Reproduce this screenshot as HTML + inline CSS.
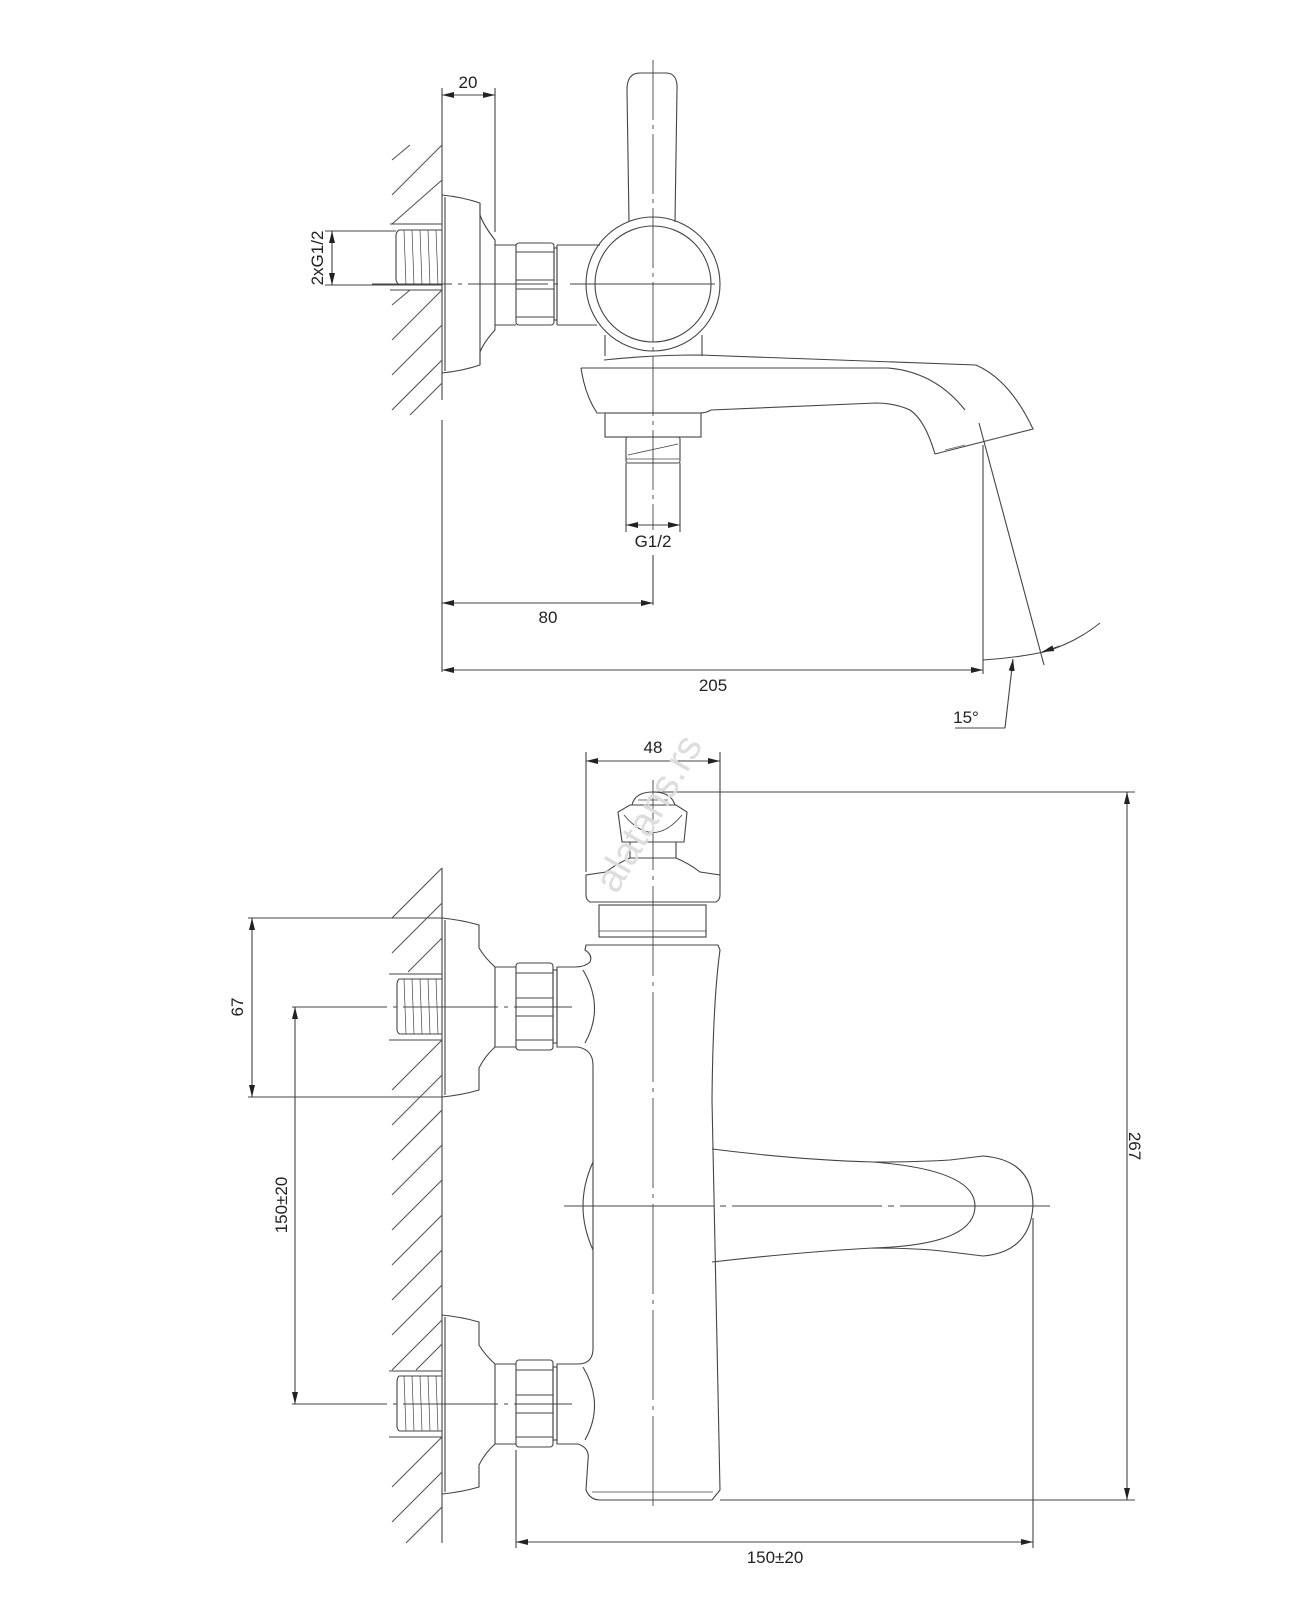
<!DOCTYPE html>
<html><head><meta charset="utf-8"><style>
html,body{margin:0;padding:0;background:#fff;}
svg{display:block;}
text{font-family:"Liberation Sans",sans-serif;font-size:17px;fill:#222;}
</style></head><body>
<svg width="1315" height="1600" viewBox="0 0 1315 1600" xmlns="http://www.w3.org/2000/svg">
<defs>
<marker id="a" viewBox="0 0 12 6" refX="12" refY="3" markerWidth="12" markerHeight="6" markerUnits="userSpaceOnUse" orient="auto-start-reverse"><path d="M0,0 L12,3 L0,6 Z" fill="#222"/></marker>
</defs>
<g fill="none" stroke="#444" stroke-width="1.1">
<!-- ================= TOP VIEW ================= -->
<line x1="442" y1="145" x2="442" y2="400"/>
<line x1="442" y1="420" x2="442" y2="672"/>
<g stroke="#555">
<line x1="392" y1="195" x2="442" y2="145"/>
<line x1="392" y1="224" x2="442" y2="180"/>
<line x1="392" y1="340" x2="442" y2="290"/>
<line x1="392" y1="375" x2="442" y2="325"/>
<line x1="392" y1="410" x2="442" y2="360"/>
<line x1="410" y1="415" x2="442" y2="383"/>
<line x1="392" y1="305" x2="410" y2="290"/>
<line x1="392" y1="160" x2="410" y2="145"/>
</g>
<line x1="442" y1="88" x2="442" y2="145"/>
<line x1="495" y1="88" x2="495" y2="232"/>
<line x1="442" y1="95" x2="495" y2="95" marker-start="url(#a)" marker-end="url(#a)"/>
<line x1="325" y1="231" x2="396" y2="231"/>
<line x1="325" y1="285" x2="442" y2="285"/>
<line x1="332" y1="231" x2="332" y2="285" marker-start="url(#a)" marker-end="url(#a)"/>
<line x1="390" y1="224" x2="442" y2="224"/>
<line x1="390" y1="290" x2="442" y2="290"/>
<path d="M442,230 L399,230 Q396,232 396,236 L396,280 Q397,284 400,285 L442,285"/>
<g stroke-width="0.7"><line x1="404" y1="230" x2="406" y2="285"/><line x1="412" y1="230" x2="414" y2="285"/><line x1="420" y1="230" x2="422" y2="285"/><line x1="428" y1="230" x2="430" y2="285"/><line x1="436" y1="230" x2="438" y2="285"/></g>
<path d="M442,195 Q462,197 480,203 L480,215 Q484,226 495,240 L495,330 Q484,342 480,352 L480,365 Q462,371 442,373"/>
<line x1="445" y1="197" x2="445" y2="371"/>
<line x1="480" y1="203" x2="480" y2="365"/>
<line x1="495" y1="245" x2="516" y2="245"/><line x1="495" y1="325" x2="516" y2="325"/>
<rect x="516" y="243" width="38" height="82" rx="3"/>
<line x1="516" y1="252" x2="554" y2="252"/><line x1="516" y1="280" x2="554" y2="280"/><line x1="516" y1="289" x2="554" y2="289"/><line x1="516" y1="317" x2="554" y2="317"/>
<rect x="554" y="248" width="3" height="72"/>
<path d="M557,245 L600,245 M557,325 L597,325 M557,245 L557,325"/>
<circle cx="653" cy="284" r="67"/>
<circle cx="653" cy="284" r="58"/>
<path d="M629,222 L627,90 Q627,73 640,73 L666,73 Q678,73 677,90 L675,222"/>
<path d="M605,335 L605,356 M702,335 L702,356"/>
<path d="M581,368 L888,368 Q935,372 965,410"/>
<path d="M604,360 Q650,355 700,355 L976,365 Q1010,380 1033,429 L935,454 Q925,420 910,410 Q895,403 876,403 L711,410 Q706,413 700,413 L597,413 Q585,395 581,368"/>
<g stroke-width="0.8" stroke="#666"><line x1="945" y1="450" x2="965" y2="445"/><line x1="985" y1="441" x2="1005" y2="436"/></g>
<rect x="605" y="413" width="96" height="24"/>
<rect x="626" y="437" width="54" height="26" rx="2"/>
<line x1="628" y1="455" x2="678" y2="444" stroke-width="0.8"/><line x1="626" y1="459" x2="680" y2="459" stroke-width="0.8"/>
<line x1="626" y1="463" x2="626" y2="532"/><line x1="680" y1="463" x2="680" y2="532"/>
<line x1="626" y1="525" x2="680" y2="525" marker-start="url(#a)" marker-end="url(#a)"/>
<line x1="653" y1="60" x2="653" y2="530" stroke-dasharray="60,5,4,5" stroke-width="0.9"/>
<line x1="653" y1="555" x2="653" y2="605"/>
<line x1="570" y1="284" x2="715" y2="284" stroke-width="0.9"/>
<line x1="372" y1="284" x2="560" y2="284" stroke-dasharray="80,6,4,6" stroke-width="0.9"/>
<line x1="442" y1="603" x2="653" y2="603" marker-end="url(#a)"/>
<line x1="442" y1="603" x2="452" y2="603" marker-start="url(#a)"/>
<line x1="442" y1="670" x2="983" y2="670" marker-start="url(#a)" marker-end="url(#a)"/>
<line x1="983" y1="445" x2="983" y2="674"/>
<line x1="979" y1="423" x2="1044" y2="665"/>
<path d="M983,660 Q1015,658 1044,652 Q1075,643 1100,623"/>
<line x1="1060" y1="646" x2="1042" y2="652" marker-end="url(#a)"/>
<line x1="1005" y1="728" x2="1013" y2="659" marker-end="url(#a)"/>
<line x1="955" y1="728" x2="1005" y2="728"/>

<!-- ================= BOTTOM VIEW ================= -->
<line x1="442" y1="868" x2="442" y2="1543"/>
<g stroke="#555">
<line x1="392" y1="918" x2="442" y2="868"/>
<line x1="392" y1="953" x2="442" y2="903"/>
<line x1="408" y1="972" x2="442" y2="938"/>
<line x1="392" y1="1090" x2="442" y2="1040"/>
<line x1="392" y1="1125" x2="442" y2="1075"/>
<line x1="392" y1="1160" x2="442" y2="1110"/>
<line x1="392" y1="1195" x2="442" y2="1145"/>
<line x1="392" y1="1230" x2="442" y2="1180"/>
<line x1="392" y1="1265" x2="442" y2="1215"/>
<line x1="392" y1="1300" x2="442" y2="1250"/>
<line x1="392" y1="1335" x2="442" y2="1285"/>
<line x1="392" y1="1370" x2="442" y2="1320"/>
<line x1="416" y1="1370" x2="442" y2="1344"/>
<line x1="392" y1="1487" x2="442" y2="1437"/>
<line x1="392" y1="1522" x2="442" y2="1472"/>
<line x1="406" y1="1543" x2="442" y2="1507"/>
</g>
<line x1="248" y1="918" x2="442" y2="918"/>
<line x1="248" y1="1097" x2="442" y2="1097"/>
<g id="c1">
<line x1="389" y1="974" x2="442" y2="974"/><line x1="389" y1="1040" x2="442" y2="1040"/>
<path d="M442,979 L399,979 Q397,981 397,985 L397,1030 Q398,1034 400,1034 L442,1034"/>
<g stroke-width="0.7"><line x1="404" y1="979" x2="406" y2="1034"/><line x1="412" y1="979" x2="414" y2="1034"/><line x1="420" y1="979" x2="422" y2="1034"/><line x1="428" y1="979" x2="430" y2="1034"/><line x1="436" y1="979" x2="438" y2="1034"/></g>
<path d="M442,918 Q462,920 479,925 L479,948 Q485,958 495,967 L495,1047 Q485,1056 479,1068 L479,1090 Q462,1095 442,1097"/>
<line x1="445" y1="920" x2="445" y2="1095"/>
<line x1="495" y1="967" x2="516" y2="967"/><line x1="495" y1="1047" x2="516" y2="1047"/>
<rect x="516" y="963" width="37" height="87" rx="3"/>
<line x1="516" y1="973" x2="553" y2="973"/><line x1="516" y1="998" x2="553" y2="998"/><line x1="516" y1="1016" x2="553" y2="1016"/><line x1="516" y1="1040" x2="553" y2="1040"/>
<rect x="553" y="970" width="4" height="73"/>
<path d="M583,970 Q605,1007 585,1043"/>
</g>
<use href="#c1" transform="translate(0,397)"/>
<path d="M557,967 L557,1047 L578,1047 Q593,1050 593,1065 L593,1350 Q592,1364 578,1364 L557,1364 L557,1444 L578,1444 Q590,1448 588,1460 L586,1490 Q590,1500 600,1500 L712,1500 L720,1490 Q716,1300 712,1100 Q713,1000 720,950 L718,945 L586,945 L585,950 Q593,955 590,962 Q585,967 575,967 Z"/>
<line x1="592" y1="1492" x2="713" y2="1492" stroke-width="0.8"/>
<path d="M593,1162 Q573,1206 593,1250"/>
<rect x="599" y="905" width="107" height="32"/>
<line x1="599" y1="931" x2="706" y2="931" stroke-width="0.8"/>
<path d="M590,902 L716,902 Q720,900 720,895 L720,875 L700,872 Q690,864 676,858 L630,858 Q616,864 606,872 L586,875 L586,895 Q586,900 590,902 Z"/>
<line x1="630" y1="842" x2="630" y2="858"/><line x1="676" y1="842" x2="676" y2="858"/>
<path d="M622,842 L684,842 L687,812 L676,805 L630,805 L618,812 Z"/>
<path d="M624,815 Q653,850 682,815" stroke-width="0.9"/>
<path d="M632,805 Q635,792 653,792 Q671,792 675,805"/>
<path d="M638,800 L668,800" stroke-width="0.8"/>
<path d="M712,1149 Q800,1160 873,1162 Q920,1162 950,1160 L983,1156 Q1033,1160 1033,1206 Q1030,1252 983,1256 L950,1252 Q920,1248 873,1248 Q800,1252 712,1262"/>
<path d="M873,1162 Q975,1170 975,1206 Q975,1245 873,1248"/>
<line x1="653" y1="780" x2="653" y2="1510" stroke-dasharray="90,6,4,6" stroke-width="0.9"/>
<line x1="292" y1="1007" x2="572" y2="1007" stroke-dasharray="95,6,4,6" stroke-width="0.9"/>
<line x1="292" y1="1404" x2="572" y2="1404" stroke-dasharray="95,6,4,6" stroke-width="0.9"/>
<line x1="564" y1="1206" x2="1050" y2="1206" stroke-dasharray="150,6,6,6" stroke-width="0.9"/>
<line x1="586" y1="752" x2="586" y2="872"/><line x1="720" y1="752" x2="720" y2="875"/>
<line x1="586" y1="761" x2="720" y2="761" marker-start="url(#a)" marker-end="url(#a)"/>
<line x1="653" y1="792" x2="1135" y2="792"/>
<line x1="720" y1="1500" x2="1135" y2="1500"/>
<line x1="1127" y1="792" x2="1127" y2="1500" marker-start="url(#a)" marker-end="url(#a)"/>
<line x1="252" y1="918" x2="252" y2="1097" marker-start="url(#a)" marker-end="url(#a)"/>
<line x1="295" y1="1007" x2="295" y2="1404" marker-start="url(#a)" marker-end="url(#a)"/>
<line x1="516" y1="1450" x2="516" y2="1548"/>
<line x1="1033" y1="1218" x2="1033" y2="1548"/>
<line x1="516" y1="1542" x2="1033" y2="1542" marker-start="url(#a)" marker-end="url(#a)"/>
</g>
<text x="468" y="88" text-anchor="middle">20</text>
<text transform="translate(323,258) rotate(-90)" text-anchor="middle">2xG1/2</text>
<text x="653" y="547" text-anchor="middle">G1/2</text>
<text x="548" y="623" text-anchor="middle">80</text>
<text x="713" y="691" text-anchor="middle">205</text>
<text x="966" y="723" text-anchor="middle">15°</text>
<text x="653" y="753" text-anchor="middle">48</text>
<text transform="translate(243,1007) rotate(-90)" text-anchor="middle">67</text>
<text transform="translate(287,1205) rotate(-90)" text-anchor="middle">150±20</text>
<text transform="translate(1129,1146) rotate(90)" text-anchor="middle">267</text>
<text x="775" y="1563" text-anchor="middle">150±20</text>
<text transform="translate(660,820) rotate(-60)" text-anchor="middle" style="font-size:40px;fill:#ddd">alatans.rs</text>
</svg>
</body></html>
